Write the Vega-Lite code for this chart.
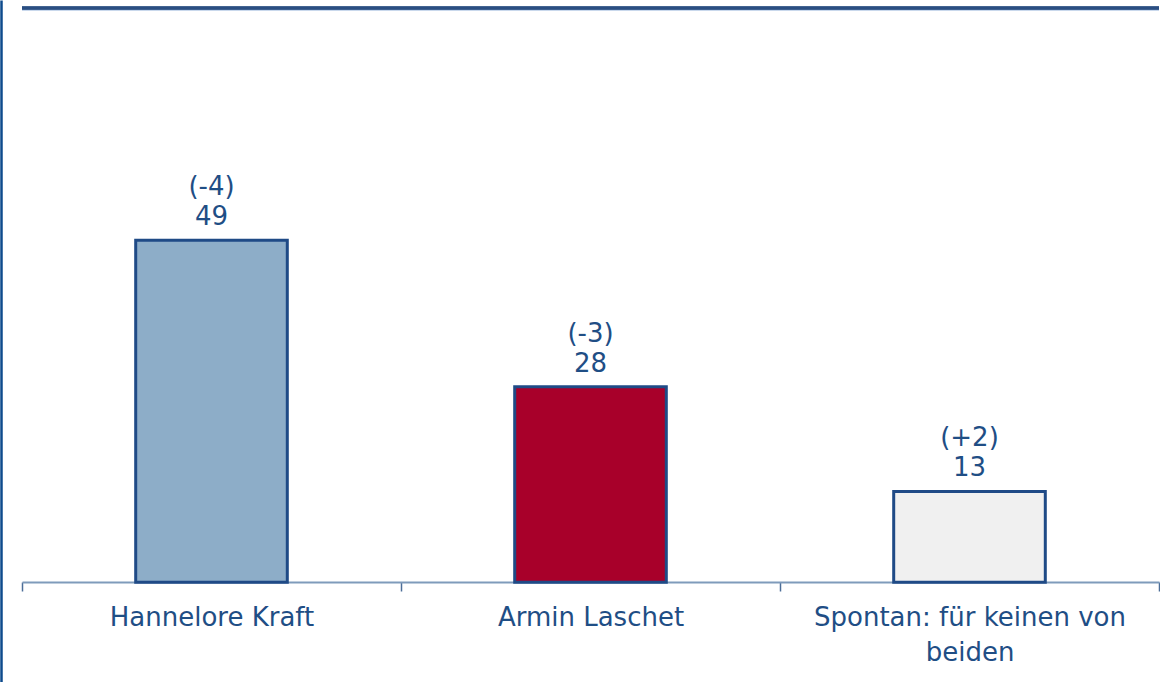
{
  "$schema": "https://vega.github.io/schema/vega-lite/v6.json",
  "autosize": "none",
  "width": 1137,
  "height": 682,
  "padding": {"left": 22, "top": 0, "right": 1, "bottom": 0},
  "background": "white",
  "config": {"view": {"stroke": null}, "font": "DejaVu Sans"},
  "data": {"values": [
    {"name": "Hannelore Kraft", "value": 49, "change": "(-4)"},
    {"name": "Armin Laschet", "value": 28, "change": "(-3)"},
    {"name": "Spontan: für keinen von beiden", "value": 13, "change": "(+2)"}
  ]},
  "encoding": {
    "x": {"field": "name", "type": "nominal", "sort": null,
      "scale": {"paddingInner": 0, "paddingOuter": 0},
      "axis": {"title": null, "orient": "bottom", "offset": -100, "labelAngle": 0,
        "domainColor": "#7F9BBB", "domainWidth": 2, "tickBand": "extent", "tickSize": 9, "tickColor": "#4C6E98", "tickWidth": 1.5,
        "labelFont": "DejaVu Sans", "labelFontSize": 26, "labelColor": "#1F4E85", "labelPadding": 13, "labelLineHeight": 35, "labelLimit": 0,
        "labelExpr": "datum.label == 'Spontan: für keinen von beiden' ? ['Spontan: für keinen von', 'beiden'] : datum.label"}},
    "y": {"field": "value", "type": "quantitative",
      "scale": {"domain": [-14.3, 83.4], "nice": false, "zero": false},
      "axis": {"title": null, "orient": "left", "offset": 21, "labels": false, "ticks": false, "grid": false,
        "domainColor": "#0D4A8C", "domainWidth": 2.5}}
  },
  "layer": [
    {"mark": {"type": "bar", "strokeWidth": 3, "stroke": "#1F4A86", "width": {"band": 0.4}},
      "encoding": {
        "y2": {"datum": 0},
        "color": {"field": "name", "type": "nominal", "sort": null, "legend": null,
          "scale": {"range": ["#8DADC8", "#A8002A", "#F0F0F0"]}}}},
    {"mark": {"type": "text", "baseline": "alphabetic", "dy": -15, "fontSize": 26, "color": "#1F4E85", "font": "DejaVu Sans"},
      "encoding": {"text": {"field": "value", "type": "quantitative"}}},
    {"mark": {"type": "text", "baseline": "alphabetic", "dy": -45, "fontSize": 26, "color": "#1F4E85", "font": "DejaVu Sans"},
      "encoding": {"text": {"field": "change", "type": "nominal"}}},
    {"mark": {"type": "rule", "color": "#C9D8EC", "strokeWidth": 2},
      "encoding": {"y": {"datum": 81.95}, "x": null}},
    {"mark": {"type": "rule", "color": "#2A4E82", "strokeWidth": 3},
      "encoding": {"y": {"datum": 82.25}, "x": null}}
  ]
}
